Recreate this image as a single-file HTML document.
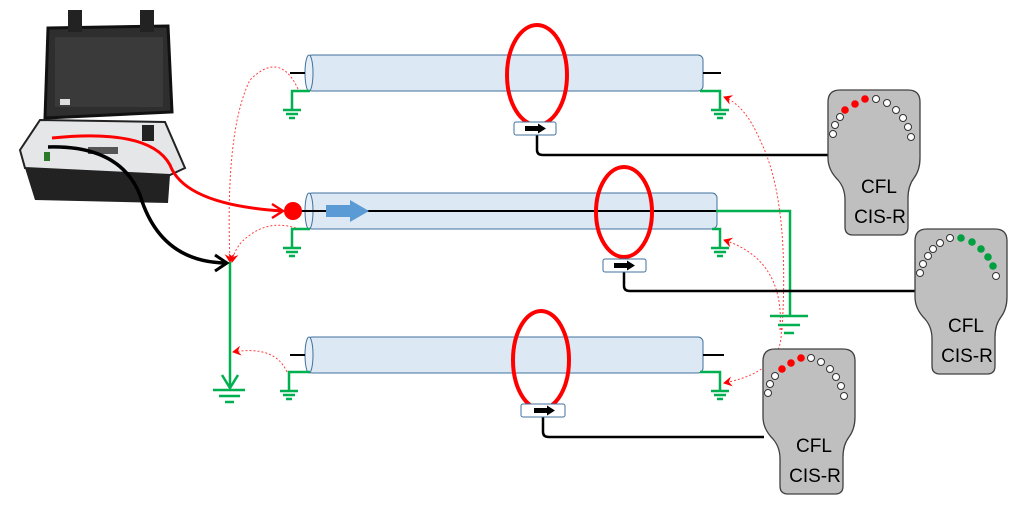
<!DOCTYPE html>
<html><head><meta charset="utf-8"><style>
html,body{margin:0;padding:0;background:#fff;}
svg{display:block;font-family:"Liberation Sans",sans-serif;}
</style></head><body>
<svg width="1024" height="522" viewBox="0 0 1024 522" xmlns="http://www.w3.org/2000/svg">
<defs>
<g id="rx">
<path d="M12,0 H80 Q92,0 92,12 V68 Q92,80 86,88 Q80,96 80,108 V137 Q80,145 72,145 H25 Q17,145 17,137 V110 Q17,98 10,90 Q0,80 0,68 V12 Q0,0 12,0 Z" fill="#bfbfbf" stroke="#404040" stroke-width="1.3"/>
<text x="51" y="103" font-size="19" text-anchor="middle" fill="#000">CFL</text>
<text x="52" y="133" font-size="19" text-anchor="middle" fill="#000">CIS-R</text>
</g>
<g id="gnd" stroke="#00b050" stroke-width="2.5">
<line x1="-9" y1="0" x2="9" y2="0"/><line x1="-6" y1="4" x2="6" y2="4"/><line x1="-3" y1="8" x2="3" y2="8"/>
</g>
<marker id="ra" markerWidth="10" markerHeight="10" refX="8" refY="5" orient="auto" markerUnits="userSpaceOnUse"><path d="M0,0 L9,5 L0,10 L3,5Z" fill="red"/></marker>
</defs>

<!-- device -->
<g>
<path d="M48,28 L168,26 L172,112 L45,118 Z" fill="#2e2e2e" stroke="#111" stroke-width="3"/>
<rect x="55" y="37" width="108" height="70" fill="#3a3a3a"/>
<rect x="68" y="10" width="14" height="22" fill="#222"/><rect x="140" y="10" width="14" height="22" fill="#222"/>
<rect x="60" y="99" width="10" height="6" fill="#ddd"/>
<path d="M20,150 L40,120 L165,122 L185,168 L170,175 L25,168 Z" fill="#e4e6e8" stroke="#222" stroke-width="2"/>
<path d="M25,168 L170,175 L168,203 L35,200 Z" fill="#222"/>
<rect x="142" y="125" width="12" height="16" fill="#222"/>
<rect x="88" y="147" width="30" height="7" fill="#555"/>
<rect x="44" y="152" width="6" height="9" fill="#2a7a2a"/>
</g>

<!-- red dotted arcs -->
<g fill="none" stroke="#ff4040" stroke-width="1" stroke-dasharray="2,2">
<path d="M298,89 Q280,50 250,80 Q225,130 230,262" marker-end="url(#ra)"/>
<path d="M296,228 Q270,220 250,235 Q235,245 232,262" marker-end="url(#ra)"/>
<path d="M287,372 Q275,345 233,352" marker-end="url(#ra)"/>
<path d="M782,330 Q790,200 760,140 Q745,105 724,97" marker-end="url(#ra)"/>
<path d="M780,330 Q785,260 724,240" marker-end="url(#ra)"/>
<path d="M780,320 Q790,370 724,383" marker-end="url(#ra)"/>
</g>

<!-- cables -->
<g stroke="#41719c" stroke-width="1" fill="#dde8f5">
<rect x="307" y="55" width="396" height="36" rx="5"/>
<rect x="307" y="193" width="410" height="36" rx="5"/>
<rect x="307" y="337" width="396" height="36" rx="5"/>
<ellipse cx="309" cy="73" rx="4" ry="18" fill="#e6eef8"/>
<ellipse cx="309" cy="211" rx="4" ry="18" fill="#e6eef8"/>
<ellipse cx="309" cy="355" rx="4" ry="18" fill="#e6eef8"/>
</g>
<g stroke="#000" stroke-width="2">
<line x1="290" y1="73" x2="305" y2="73"/><line x1="703" y1="73" x2="721" y2="73"/>
<line x1="290" y1="355" x2="305" y2="355"/><line x1="703" y1="355" x2="724" y2="355"/>
<line x1="300" y1="211" x2="716" y2="211"/>
</g>
<path d="M326,205 H350 V200 L369,211 L350,222 V217 H326 Z" fill="#5b9bd5"/>

<!-- green grounds -->
<g fill="none" stroke="#00b050" stroke-width="2.5">
<path d="M310,91 H292 V110"/><path d="M700,91 H720 V110"/>
<path d="M310,229 H292 V248"/><path d="M712,229 H720 V248"/>
<path d="M310,372 H289 V391"/><path d="M700,372 H720 V391"/>
<path d="M716,211 H790 V316"/>
<path d="M230,262 V388"/>
<path d="M222,375 L230,388 L238,375"/>
</g>
<use href="#gnd" x="292" y="110"/><use href="#gnd" x="720" y="110"/>
<use href="#gnd" x="292" y="248"/><use href="#gnd" x="720" y="248"/>
<use href="#gnd" x="289" y="391"/><use href="#gnd" x="720" y="391"/>
<g stroke="#00b050" stroke-width="2.5">
<line x1="770" y1="316" x2="808" y2="316"/><line x1="778" y1="325" x2="800" y2="325"/><line x1="784" y1="333" x2="794" y2="333"/>
<line x1="213" y1="390" x2="245" y2="390"/><line x1="219" y1="396" x2="240" y2="396"/><line x1="225" y1="402" x2="234" y2="402"/>
</g>

<!-- wires from device -->
<path d="M52,138 Q150,128 170,165 Q185,205 283,211" fill="none" stroke="red" stroke-width="3"/>
<path d="M272,204 L283,211 L272,218" fill="none" stroke="red" stroke-width="2.5"/>
<circle cx="293" cy="211" r="9" fill="red"/>
<path d="M48,147 Q120,145 140,195 Q160,262 226,263" fill="none" stroke="#000" stroke-width="3.5"/>
<path d="M215,255 L227,263 L215,271" fill="none" stroke="#000" stroke-width="3"/>

<!-- sensor wires -->
<g fill="none" stroke="#000" stroke-width="2.5">
<path d="M537,135 V150 Q537,155 543,155 H829"/>
<path d="M624,272 V286 Q624,291 630,291 H916"/>
<path d="M543,417 V432 Q543,437 549,437 H764"/>
</g>

<!-- rings -->
<g fill="none" stroke="red" stroke-width="4">
<ellipse cx="537" cy="75" rx="30" ry="50"/>
<ellipse cx="624" cy="212" rx="28" ry="45"/>
<ellipse cx="541" cy="360" rx="28" ry="49"/>
</g>
<!-- tags -->
<g stroke="#41719c" stroke-width="1" fill="#fff">
<rect x="514" y="122" width="42" height="13" rx="2"/>
<rect x="603" y="259" width="43" height="13" rx="2"/>
<rect x="521" y="404" width="44" height="13" rx="2"/>
</g>
<g fill="#000">
<path d="M525,126 H538 V123.5 L546,128.5 L538,133.5 V131 H525Z"/>
<path d="M614,263 H627 V260.5 L635,265.5 L627,270.5 V268 H614Z"/>
<path d="M534,408 H547 V405.5 L555,410.5 L547,415.5 V413 H534Z"/>
</g>

<!-- receivers -->
<g transform="translate(828,90)"><use href="#rx"/>
<g stroke="#333" stroke-width="1">
<circle cx="5" cy="44" r="3.5" fill="#fff"/><circle cx="7" cy="35" r="3.5" fill="#fff"/><circle cx="12" cy="27" r="3.5" fill="#fff"/>
<circle cx="17" cy="20" r="3.8" fill="red" stroke="none"/><circle cx="27" cy="14" r="3.8" fill="red" stroke="none"/><circle cx="37" cy="9" r="3.8" fill="red" stroke="none"/>
<circle cx="48" cy="9" r="3.5" fill="#fff"/><circle cx="59" cy="13" r="3.5" fill="#fff"/><circle cx="68" cy="20" r="3.5" fill="#fff"/>
<circle cx="75" cy="28" r="3.5" fill="#fff"/><circle cx="80" cy="37" r="3.5" fill="#fff"/><circle cx="83" cy="47" r="3.5" fill="#fff"/>
</g></g>
<g transform="translate(915,229)"><use href="#rx"/>
<g stroke="#333" stroke-width="1">
<circle cx="5" cy="44" r="3.5" fill="#fff"/><circle cx="8" cy="35" r="3.5" fill="#fff"/><circle cx="13" cy="27" r="3.5" fill="#fff"/>
<circle cx="18" cy="20" r="3.5" fill="#fff"/><circle cx="25" cy="14" r="3.5" fill="#fff"/><circle cx="35" cy="9" r="3.5" fill="#fff"/>
<circle cx="46" cy="9" r="3.8" fill="#00a040" stroke="none"/><circle cx="57" cy="13" r="3.8" fill="#00a040" stroke="none"/><circle cx="66" cy="20" r="3.8" fill="#00a040" stroke="none"/>
<circle cx="73" cy="28" r="3.8" fill="#00a040" stroke="none"/><circle cx="78" cy="37" r="3.8" fill="#00a040" stroke="none"/><circle cx="81" cy="47" r="3.5" fill="#fff"/>
</g></g>
<g transform="translate(763,349)"><use href="#rx"/>
<g stroke="#333" stroke-width="1">
<circle cx="5" cy="44" r="3.5" fill="#fff"/><circle cx="7" cy="35" r="3.5" fill="#fff"/><circle cx="12" cy="27" r="3.5" fill="#fff"/>
<circle cx="19" cy="20" r="3.8" fill="red" stroke="none"/><circle cx="28" cy="14" r="3.8" fill="red" stroke="none"/><circle cx="38" cy="9" r="3.8" fill="red" stroke="none"/>
<circle cx="48" cy="9" r="3.5" fill="#fff"/><circle cx="58" cy="13" r="3.5" fill="#fff"/><circle cx="67" cy="20" r="3.5" fill="#fff"/>
<circle cx="73" cy="28" r="3.5" fill="#fff"/><circle cx="78" cy="37" r="3.5" fill="#fff"/><circle cx="81" cy="47" r="3.5" fill="#fff"/>
</g></g>
</svg>
</body></html>
